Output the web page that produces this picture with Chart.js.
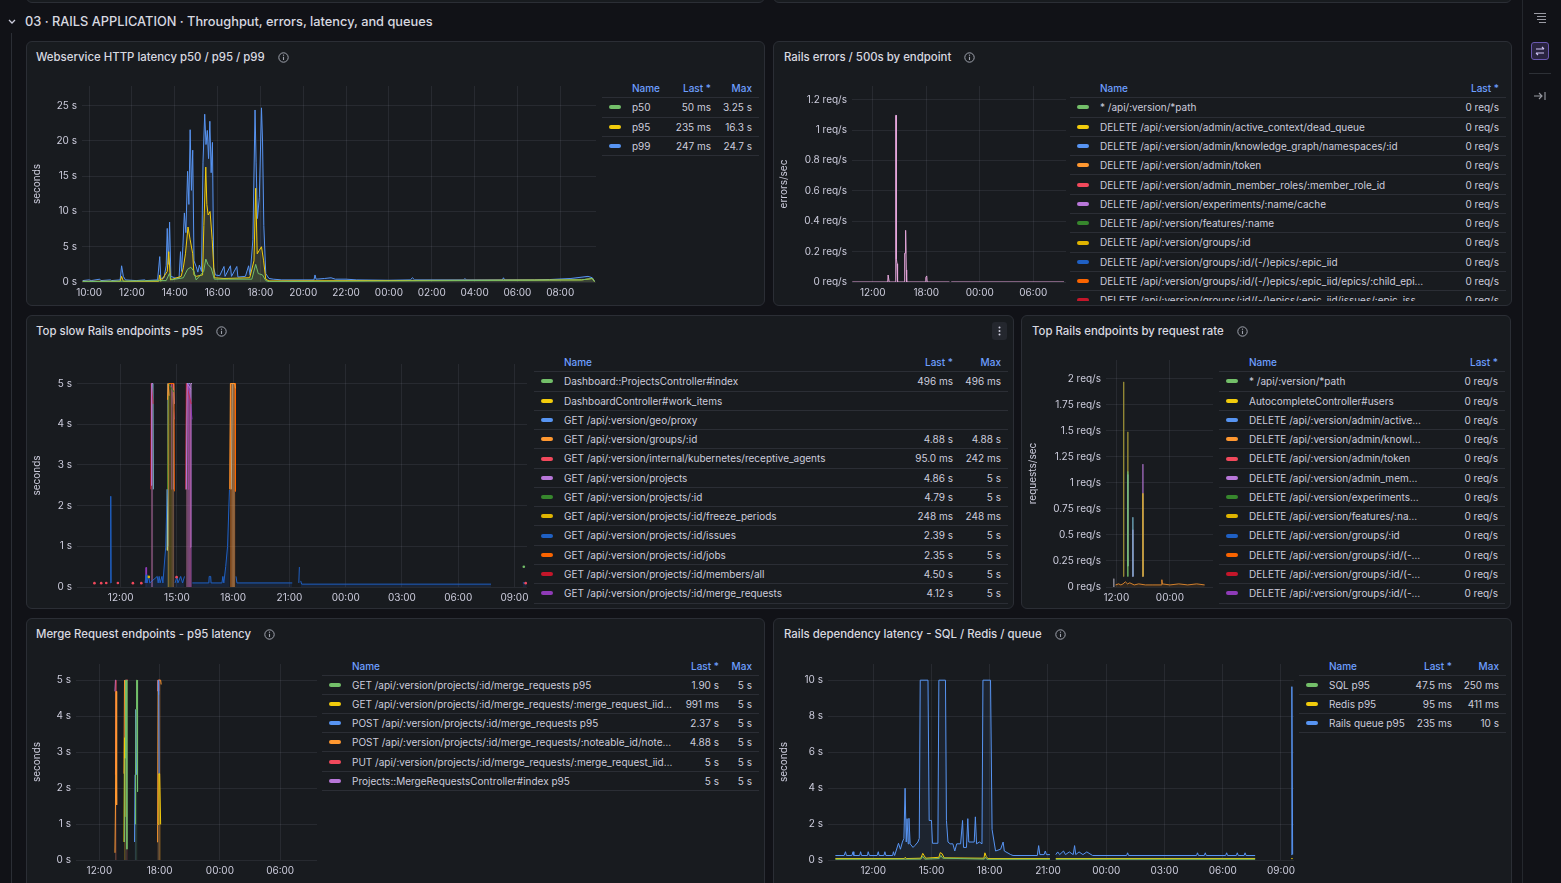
<!DOCTYPE html>
<html>
<head>
<meta charset="utf-8">
<title>03 · RAILS APPLICATION</title>
<script src="https://cdn.jsdelivr.net/npm/chart.js@4.4.1/dist/chart.umd.min.js"></script>
<style>
  html, body { margin: 0; padding: 0; }
  body { width: 1561px; height: 883px; overflow: hidden; background: #111217; position: relative;
         font-family: Inter, "Noto Sans", sans-serif; color: #ccccdc; }
  .abs { position: absolute; }
  .panel { position: absolute; background: #181b1f; border: 1px solid #2b2e35; border-radius: 6px; box-sizing: border-box; }
  .ptitle { position: absolute; top: 7px; height: 16px; line-height: 16px; font-size: 11.4px; font-weight: 500;
            color: #d8d9e0; white-space: nowrap; display: flex; align-items: center; }
  .ptitle svg { margin-left: 13px; }
  .legend { position: absolute; overflow: hidden; font-size: 10px; }
  .lrow { position: absolute; left: 0; right: 0; border-bottom: 1px solid #2b2e35; box-sizing: border-box; white-space: nowrap; }
  .lrow span { position: absolute; top: 0; }
  .lhead { color: #6e9fff; font-weight: 500; }
  .sw { left: 7px; width: 12px; height: 4px; border-radius: 2px; }
  .nm { left: 30px; overflow: hidden; text-overflow: ellipsis; }
  .num { text-align: right; }
  canvas { position: absolute; }
</style>
</head>
<body>

<!-- bottoms of the panels above -->
<div class="panel" style="left:26px;top:-20px;width:739px;height:23px"></div>
<div class="panel" style="left:773px;top:-20px;width:739px;height:23px"></div>

<!-- row header -->
<svg class="abs" style="left:7px;top:18px" width="10" height="8"><path d="M2 2 L5 5 L8 2" stroke="#ccccdc" stroke-width="1.3" fill="none"/></svg>
<div class="abs" style="left:25px;top:13px;font-size:12.8px;font-weight:500;color:#d8d9e0;line-height:18px;white-space:nowrap">03 · RAILS APPLICATION · Throughput, errors, latency, and queues</div>
<div class="abs" style="left:11px;top:33px;width:1px;height:850px;background:#2b2e35"></div>

<!-- right side bar -->
<div class="abs" style="left:1522px;top:0;width:1px;height:883px;background:#24272d"></div>
<svg class="abs" style="left:1533px;top:12px" width="14" height="12">
  <path d="M1 1.5H13 M4 4.5H13 M4 7.5H13 M6 10.5H13" stroke="#9a9ba4" stroke-width="1.1"/>
</svg>
<div class="abs" style="left:1531px;top:42px;width:18px;height:18px;box-sizing:border-box;border:1px solid #6a58b0;background:#2a2440;border-radius:3px"></div>
<svg class="abs" style="left:1534px;top:45px" width="12" height="12">
  <path d="M2 4H10 M8 2L10 4 M10 8H2 M4 10L2 8" stroke="#cfc4f5" stroke-width="1.1" fill="none"/>
</svg>
<div class="abs" style="left:1529px;top:73px;width:22px;height:1px;background:#2d3036"></div>
<svg class="abs" style="left:1533px;top:90px" width="14" height="12">
  <path d="M1 6H9 M6 3L9 6L6 9 M12 2V10" stroke="#9a9ba4" stroke-width="1.1" fill="none"/>
</svg>

<script>
// ---------- data (time in hours, next day = 24+) ----------
const timeMin = 9.67;
const timeMax = 33.67;

// Webservice HTTP latency (seconds)
const latP50 = [[9.7,0.05],[13.6,0.2],[13.75,1.2],[13.85,0.3],[14.4,0.6],[14.6,1.8],[14.75,2.1],[14.9,1.5],[15.0,0.3],[15.35,1.5],[15.45,3.25],[15.55,2.5],[15.7,2.0],[15.85,0.4],[16.5,0.4],[17.6,0.4],[17.78,2.5],[17.9,1.2],[18.1,1.0],[18.25,0.2],[18.4,0.05],[33.0,0.3],[33.5,0.5],[33.6,0.05]];
const latP95 = [[9.7,0.1],[11.45,0.1],[11.52,0.8],[11.6,0.1],[13.25,0.1],[13.3,1.0],[13.35,0.1],[13.65,1.5],[13.72,4.3],[13.8,0.3],[14.3,0.8],[14.4,2.0],[14.5,4.0],[14.62,7.8],[14.72,6.0],[14.84,4.0],[14.9,1.0],[15.0,0.8],[15.3,1.0],[15.36,8.0],[15.45,16.3],[15.5,11.0],[15.56,9.5],[15.65,10.0],[15.75,6.0],[15.85,0.6],[16.3,0.5],[17.5,0.6],[17.7,3.0],[17.78,13.3],[17.85,4.0],[17.95,4.5],[18.05,5.0],[18.15,3.0],[18.25,0.4],[18.4,0.15],[33.0,0.3],[33.5,0.5],[33.6,0.05]];
const latP99 = [[9.7,0.2],[10.0,0.3],[10.1,0.2],[10.5,0.4],[10.55,0.2],[11.0,0.3],[11.05,0.2],[11.45,0.3],[11.52,2.3],[11.6,0.8],[11.7,0.3],[12.2,0.2],[12.6,0.3],[12.65,0.2],[13.2,0.3],[13.3,3.6],[13.35,0.5],[13.5,0.6],[13.6,2.3],[13.65,7.6],[13.7,2.5],[13.76,8.5],[13.82,0.8],[14.0,0.6],[14.2,0.5],[14.27,4.3],[14.32,1.5],[14.38,5.0],[14.45,9.8],[14.52,7.0],[14.6,15.7],[14.66,11.0],[14.72,21.6],[14.78,13.0],[14.84,18.7],[14.9,3.0],[15.0,2.2],[15.08,1.4],[15.15,2.4],[15.25,1.5],[15.32,17.0],[15.4,23.8],[15.46,19.5],[15.52,21.5],[15.58,17.5],[15.64,22.8],[15.7,15.5],[15.76,19.8],[15.82,2.0],[15.9,1.0],[16.1,0.9],[16.3,2.2],[16.35,0.8],[16.6,2.3],[16.65,0.8],[16.9,2.2],[16.95,0.7],[17.3,0.8],[17.45,2.3],[17.52,1.0],[17.65,6.0],[17.75,24.4],[17.8,17.0],[17.86,9.0],[17.95,12.0],[18.05,24.7],[18.1,20.0],[18.16,8.0],[18.25,1.2],[18.4,0.5],[18.6,0.4],[19.0,0.3],[20.5,0.3],[20.55,1.0],[20.6,0.4],[21.0,0.5],[21.3,0.6],[21.5,0.4],[22.0,0.4],[22.5,0.3],[24.0,0.25],[25.0,0.3],[25.1,0.6],[25.2,0.3],[27.5,0.3],[27.55,0.5],[27.6,0.3],[29.3,0.3],[29.35,0.6],[29.4,0.3],[30.8,0.3],[31.5,0.35],[32.5,0.5],[33.3,0.8],[33.5,0.6],[33.6,0.1]];
const latNames = ['p50', 'p95', 'p99'];
const latLast = ['50 ms', '235 ms', '247 ms'];
const latMax = ['3.25 s', '16.3 s', '24.7 s'];

// Rails errors / 500s (req/s)
const err500 = [[9.7,0],[13.68,0],[13.72,0.046],[13.8,0.046],[13.84,0],[14.55,0],[14.58,1.097],[14.62,1.097],[14.64,1.0],[14.66,0.15],[14.72,0.12],[14.76,0.04],[14.8,0],[15.55,0],[15.58,0.19],[15.63,0.19],[15.65,0.34],[15.72,0.34],[15.76,0.08],[15.8,0],[17.88,0],[17.95,0.03],[18.05,0.04],[18.1,0],[20.6,0],[20.62,null],[20.8,0],[33.45,0]];
const errNames = ['* /api/:version/*path', 'DELETE /api/:version/admin/active_context/dead_queue', 'DELETE /api/:version/admin/knowledge_graph/namespaces/:id', 'DELETE /api/:version/admin/token', 'DELETE /api/:version/admin_member_roles/:member_role_id', 'DELETE /api/:version/experiments/:name/cache', 'DELETE /api/:version/features/:name', 'DELETE /api/:version/groups/:id', 'DELETE /api/:version/groups/:id/(-/)epics/:epic_iid', 'DELETE /api/:version/groups/:id/(-/)epics/:epic_iid/epics/:child_epic_id', 'DELETE /api/:version/groups/:id/(-/)epics/:epic_iid/issues/:epic_issue_id'];
const errLast = ['0 req/s','0 req/s','0 req/s','0 req/s','0 req/s','0 req/s','0 req/s','0 req/s','0 req/s','0 req/s','0 req/s'];

// Top slow Rails endpoints p95 (seconds)
const slowDashboard = [[33.5,0.496]];
const slowWorkItems = [];
const slowGeo = [];
const slowGroups = [[14.5,4.6],[14.53,5],[14.58,4.7],[14.59,null],[17.82,2.4],[17.85,5],[18.08,5],[18.12,4.88]];
const slowAgents = [[10.6,0.095],[10.61,null],[10.96,0.095],[10.97,null],[11.23,0.1],[11.24,null],[11.85,0.1],[11.86,null],[12.65,0.095],[12.66,null],[13.1,0.095],[13.11,null],[14.98,0.242],[14.99,null],[33.6,0.095]];
const slowProjects = [[13.62,2.5],[13.65,5],[13.72,5],[13.73,null],[15.5,2.4],[15.55,5],[15.75,4.86]];
const slowProjectId = [[14.5,2.4],[14.55,5],[14.85,4.79]];
const slowFreeze = [[13.5,0.248]];
const slowIssues = [[11.45,0.1],[11.47,2.23],[11.49,0.1],[11.5,null],[13.3,0.1],[13.35,0.3],[13.4,0.1],[13.5,0.26],[13.55,0.1],[13.95,0.26],[14.0,0.1],[14.05,0.26],[14.1,0.1],[14.2,0.26],[14.25,0.1],[14.4,0.98],[14.48,2.4],[14.5,null],[14.9,0.1],[15.0,0.26],[15.05,0.1],[15.2,0.26],[15.3,0.1],[15.4,0.26],[15.46,null],[15.82,0.1],[16.7,0.1],[16.72,0.26],[16.8,0.26],[16.82,0.1],[17.4,0.1],[17.45,0.26],[17.5,0.1],[17.6,0.5],[17.7,1.0],[17.8,2.39],[17.82,null],[18.15,0.26],[18.2,0.1],[21.15,0.1],[21.2,null],[21.5,0.1],[21.53,0.49],[21.56,null],[21.6,0.15],[21.65,0.07],[31.75,0.07],[31.8,null],[33.45,0.1],[33.65,0.1]];
const slowJobs = [[14.52,2.4],[14.55,5],[14.84,5],[14.86,2.35],[14.87,null],[17.83,2.4],[17.87,5],[18.11,5],[18.12,2.35]];
const slowMembers = [[13.6,2.4],[13.63,5],[13.73,4.5],[13.74,null],[15.47,2.4],[15.5,5],[15.76,4.5]];
const slowMergeReqs = [[13.33,0.1],[13.35,0.48],[13.38,0.1],[13.39,null],[14.7,2.4],[14.72,5],[14.86,4.12],[14.87,null],[15.6,2.4],[15.63,5],[15.8,4.12]];
// series further down the (scrolled) legend that show up in the bands
const slowOtherA = [[13.62,2.5],[13.65,5],[13.72,5],[13.74,2.4],[13.75,null],[14.48,1.0],[14.52,5],[14.6,5],[14.61,null],[15.48,2.4],[15.52,5],[15.7,5],[15.71,null],[17.9,2.4],[17.95,5],[18.1,5]];
const slowOtherB = [[14.8,2.4],[14.82,5],[14.86,4.5],[14.87,null],[15.7,0.98],[15.74,5],[15.8,5]];
const slowOtherC = [[14.47,0.9],[14.48,2.4],[14.49,0.9]];
const slowNames = ['Dashboard::ProjectsController#index', 'DashboardController#work_items', 'GET /api/:version/geo/proxy', 'GET /api/:version/groups/:id', 'GET /api/:version/internal/kubernetes/receptive_agents', 'GET /api/:version/projects', 'GET /api/:version/projects/:id', 'GET /api/:version/projects/:id/freeze_periods', 'GET /api/:version/projects/:id/issues', 'GET /api/:version/projects/:id/jobs', 'GET /api/:version/projects/:id/members/all', 'GET /api/:version/projects/:id/merge_requests'];
const slowLast = ['496 ms', '', '', '4.88 s', '95.0 ms', '4.86 s', '4.79 s', '248 ms', '2.39 s', '2.35 s', '4.50 s', '4.12 s'];
const slowMax = ['496 ms', '', '', '4.88 s', '242 ms', '5 s', '5 s', '248 ms', '5 s', '5 s', '5 s', '5 s'];

// Top Rails endpoints by request rate (req/s)
const rateAnyPath = [[14.5,0.3],[14.55,1.11],[14.6,0.1]];
const rateAutocomplete = [[17.9,0.1],[17.95,0.9],[18.0,0.1]];
const rateActiveCtx = [[14.52,0.3],[14.55,1.08],[14.6,0.2],[14.61,null],[15.65,0.1],[15.7,0.67],[15.75,0.1]];
const rateKnowledge = [[11.8,0.02],[12.5,0.03],[13.0,0.02],[13.5,0.03],[14.0,0.05],[14.5,0.03],[15.0,0.04],[16.0,0.02],[17.0,0.03],[18.5,0.02],[20.0,0.02],[22.1,0.02],[22.2,0.07],[22.3,0.03],[24.0,0.02],[26.0,0.03],[28.0,0.02],[30.0,0.03],[31.8,0.02]];
const rateToken = [];
const rateMemberRoles = [[15.66,0.1],[15.7,0.55],[15.74,0.1],[15.75,null],[17.9,0.1],[17.95,1.18],[18.0,0.1]];
const rateExperiments = [];
const rateFeatures = [[13.57,0.1],[13.62,1.97],[13.67,0.1],[13.68,null],[14.5,0.2],[14.55,1.49],[14.6,0.2]];
const rateGroups = [];
const rateEpic = [];
const rateChildEpic = [];
const rateEpicIssue = [[11.35,0],[11.4,0.08],[11.45,0]];
const rateNames = ['* /api/:version/*path', 'AutocompleteController#users', 'DELETE /api/:version/admin/active_context/dead_queue', 'DELETE /api/:version/admin/knowledge_graph/namespaces/:id', 'DELETE /api/:version/admin/token', 'DELETE /api/:version/admin_member_roles/:member_role_id', 'DELETE /api/:version/experiments/:name/cache', 'DELETE /api/:version/features/:name', 'DELETE /api/:version/groups/:id', 'DELETE /api/:version/groups/:id/(-/)epics/:epic_iid', 'DELETE /api/:version/groups/:id/(-/)epics/:epic_iid/epics/:child_epic_id', 'DELETE /api/:version/groups/:id/(-/)epics/:epic_iid/issues/:epic_issue_id'];
const rateLast = ['0 req/s','0 req/s','0 req/s','0 req/s','0 req/s','0 req/s','0 req/s','0 req/s','0 req/s','0 req/s','0 req/s','0 req/s'];

// Merge Request endpoints p95 (seconds)
const mrGetList = [[14.5,0.5],[14.55,2.83],[14.6,5],[14.7,5],[14.74,0.3],[14.75,null],[15.55,1.0],[15.6,2.4],[15.65,4.2],[15.7,5],[15.76,5],[15.8,1.9]];
const mrGetOne = [[14.45,0.5],[14.5,3.4],[14.55,1.2],[14.56,null],[17.85,0.99],[17.92,2.4],[18.0,2.4],[18.1,0.99]];
const mrPost = [[15.5,0.5],[15.55,2.37],[15.62,4.18],[15.7,2.37],[15.71,null],[17.85,4.6],[17.9,5],[17.95,2.37]];
const mrNotes = [[13.55,0.2],[13.6,1.53],[13.66,4.69],[13.72,1.53],[13.73,null],[14.45,2.4],[14.5,5],[14.6,4.88],[14.61,null],[17.75,0.5],[17.8,0.98],[17.85,5],[18.1,5],[18.15,4.88]];
const mrPut = [[13.6,2.37],[13.66,5],[13.74,5],[13.75,null],[14.55,4.8],[14.6,5],[14.85,5],[14.86,null],[17.88,4.7],[17.92,5],[18.05,5]];
const mrIndex = [[13.55,4.69],[13.6,5],[13.66,5],[13.67,null],[17.78,4.7],[17.82,5],[17.86,5]];
const mrNames = ['GET /api/:version/projects/:id/merge_requests p95', 'GET /api/:version/projects/:id/merge_requests/:merge_request_iid p95', 'POST /api/:version/projects/:id/merge_requests p95', 'POST /api/:version/projects/:id/merge_requests/:noteable_id/notes p95', 'PUT /api/:version/projects/:id/merge_requests/:merge_request_iid/merge p95', 'Projects::MergeRequestsController#index p95'];
const mrLast = ['1.90 s', '991 ms', '2.37 s', '4.88 s', '5 s', '5 s'];
const mrMax = ['5 s', '5 s', '5 s', '5 s', '5 s', '5 s'];

// Rails dependency latency (seconds)
const depSql = [[10.05,0.04],[14.45,0.05],[14.55,0.2],[14.65,0.05],[15.4,0.08],[15.48,0.25],[15.58,0.1],[17.72,0.05],[17.78,0.15],[17.85,0.04],[21.1,0.04],[21.12,null],[21.4,0.04],[31.67,0.04]];
const depRedis = [[10.05,0.08],[13.6,0.08],[13.65,0.15],[13.7,0.08],[14.45,0.1],[14.55,0.37],[14.62,0.25],[14.7,0.1],[15.38,0.15],[15.45,0.41],[15.55,0.35],[15.65,0.12],[17.7,0.1],[17.75,0.4],[17.82,0.2],[17.9,0.08],[21.1,0.08],[21.12,null],[21.4,0.08],[31.67,0.08],[31.7,null],[33.53,0.08],[33.6,0.08]];
const depQueue = [[10.05,0.25],[10.5,0.25],[10.57,0.46],[10.62,0.25],[10.9,0.25],[10.96,0.46],[11.0,0.25],[11.3,0.25],[11.35,0.46],[11.4,0.25],[11.7,0.25],[11.74,0.46],[11.8,0.25],[12.2,0.25],[12.26,0.46],[12.3,0.25],[12.55,0.25],[12.6,0.46],[12.65,0.25],[13.0,0.25],[13.04,0.46],[13.1,0.25],[13.3,0.93],[13.4,0.6],[13.5,1.0],[13.58,1.2],[13.64,3.99],[13.7,1.0],[13.74,2.3],[13.8,0.9],[13.84,2.32],[13.9,0.9],[14.05,0.7],[14.14,0.8],[14.3,1.0],[14.37,1.2],[14.42,10],[14.82,10],[14.88,2.2],[15.0,2.2],[15.05,0.93],[15.33,0.93],[15.38,10],[15.72,10],[15.77,2.2],[15.85,1.0],[15.96,0.9],[16.1,0.9],[16.2,0.5],[16.3,0.9],[16.5,0.9],[16.6,2.2],[16.65,0.7],[16.8,0.7],[16.87,2.3],[16.92,1.0],[17.2,1.0],[17.26,2.4],[17.32,0.9],[17.47,1.0],[17.6,0.9],[17.65,10],[18.04,10],[18.12,1.7],[18.3,0.5],[18.56,0.6],[18.69,1.0],[18.75,0.5],[19.08,0.3],[19.2,0.25],[20.45,0.25],[20.52,0.8],[20.58,0.3],[20.8,0.3],[20.86,0.5],[20.92,0.3],[21.1,0.3],[21.12,null],[21.4,0.3],[21.5,0.45],[21.6,0.3],[21.8,0.5],[21.9,0.3],[22.1,0.45],[22.3,0.3],[22.37,0.8],[22.43,0.3],[22.6,0.45],[22.8,0.3],[23.0,0.45],[23.3,0.25],[25.05,0.25],[25.1,0.4],[25.15,0.25],[28.65,0.25],[28.7,0.4],[28.75,0.25],[29.05,0.25],[29.1,0.4],[29.15,0.25],[30.15,0.25],[30.2,0.4],[30.25,0.25],[30.7,0.25],[30.75,0.4],[30.8,0.25],[31.1,0.25],[31.15,0.4],[31.2,0.25],[31.67,0.25],[31.7,null],[33.53,0.3],[33.56,9.64],[33.6,0.3]];
const depNames = ['SQL p95', 'Redis p95', 'Rails queue p95'];
const depLast = ['47.5 ms', '95 ms', '235 ms'];
const depMax = ['250 ms', '411 ms', '10 s'];

// tick values and labels
const hours2 = [10, 12, 14, 16, 18, 20, 22, 24, 26, 28, 30, 32];
const hours2Labels = ['10:00', '12:00', '14:00', '16:00', '18:00', '20:00', '22:00', '00:00', '02:00', '04:00', '06:00', '08:00'];
const hours3 = [12, 15, 18, 21, 24, 27, 30, 33];
const hours3Labels = ['12:00', '15:00', '18:00', '21:00', '00:00', '03:00', '06:00', '09:00'];
const hours6 = [12, 18, 24, 30];
const hours6Labels = ['12:00', '18:00', '00:00', '06:00'];
const hours12 = [12, 24];
const hours12Labels = ['12:00', '00:00'];
const latTicks = [0, 5, 10, 15, 20, 25];
const latTickLabels = ['0 s', '5 s', '10 s', '15 s', '20 s', '25 s'];
const errTicks = [0, 0.2, 0.4, 0.6, 0.8, 1, 1.2];
const errTickLabels = ['0 req/s', '0.2 req/s', '0.4 req/s', '0.6 req/s', '0.8 req/s', '1 req/s', '1.2 req/s'];
const secTicks = [0, 1, 2, 3, 4, 5];
const secTickLabels = ['0 s', '1 s', '2 s', '3 s', '4 s', '5 s'];
const rateTicks = [0, 0.25, 0.5, 0.75, 1, 1.25, 1.5, 1.75, 2];
const rateTickLabels = ['0 req/s', '0.25 req/s', '0.5 req/s', '0.75 req/s', '1 req/s', '1.25 req/s', '1.5 req/s', '1.75 req/s', '2 req/s'];
const depTicks = [0, 2, 4, 6, 8, 10];
const depTickLabels = ['0 s', '2 s', '4 s', '6 s', '8 s', '10 s'];

// ---------- styling ----------
const palette = ['#73bf69', '#f2cc0c', '#5794f2', '#ff9830', '#f2495c', '#b877d9', '#37872d', '#e0b400', '#1f60c4', '#fa6400', '#c4162a', '#8f3bb8'];
const gridColor = 'rgba(204,204,220,0.09)';
const textColor = '#ccccdc';
Chart.defaults.font.family = 'Inter';
Chart.defaults.font.size = 10;
Chart.defaults.color = textColor;

function rgba(hex, a) {
  const n = parseInt(hex.slice(1), 16);
  return `rgba(${n >> 16},${(n >> 8) & 255},${n & 255},${a})`;
}
const toPts = arr => arr.map(p => ({ x: p[0], y: p[1] }));

function infoIcon() {
  return '<svg width="11" height="11" viewBox="0 0 11 11"><circle cx="5.5" cy="5.5" r="4.7" stroke="#9fa3ad" stroke-width="1" fill="none"/><path d="M5.5 4.8V8" stroke="#9fa3ad" stroke-width="1.1"/><circle cx="5.5" cy="3.2" r="0.65" fill="#9fa3ad"/></svg>';
}

function buildPanel(p) {
  const el = document.createElement('div');
  el.className = 'panel';
  el.style.cssText = `left:${p.left}px;top:${p.top}px;width:${p.w}px;height:${p.h}px`;
  el.innerHTML = `<div class="ptitle" style="left:${p.tx}px">${p.title}${infoIcon()}</div>`;
  document.body.appendChild(el);
  return el;
}

function buildChart(o) {
  const L = o.titleX - 8;
  const T = o.plotTop;
  const W = o.plotRight + 4 - L;
  const H = o.plotBottom - T + 22;
  const cv = document.createElement('canvas');
  cv.width = W; cv.height = H;
  cv.style.cssText = `left:${L}px;top:${T}px;width:${W}px;height:${H}px`;
  document.body.appendChild(cv);
  new Chart(cv, {
    type: 'line',
    data: {
      datasets: o.series.map(s => ({
        data: toPts(s.data),
        borderColor: s.line ? rgba(s.color, s.line) : s.color,
        backgroundColor: rgba(s.color, s.fill || 0),
        fill: s.fill ? 'origin' : false,
        borderWidth: s.width || 1,
        pointRadius: s.radius || 0,
        pointBackgroundColor: s.color,
        pointBorderWidth: 0,
        tension: 0,
        spanGaps: false
      }))
    },
    options: {
      responsive: false,
      animation: false,
      events: [],
      layout: { padding: { top: 0, right: 4, left: 0, bottom: 0 } },
      plugins: { legend: { display: false }, tooltip: { enabled: false } },
      scales: {
        x: {
          type: 'linear', min: timeMin, max: timeMax,
          afterBuildTicks: s => { s.ticks = o.xTicks.map(v => ({ value: v })); },
          afterFit: s => { s.height = 22; s.paddingLeft = 0; s.paddingRight = 0; },
          ticks: { callback: (v, i) => o.xLabels[i], padding: 5, maxRotation: 0, autoSkip: false, color: textColor },
          grid: { color: gridColor, drawTicks: false },
          border: { display: false }
        },
        y: {
          min: 0, max: o.yMax,
          afterBuildTicks: s => { s.ticks = o.yTicks.map(v => ({ value: v })); },
          afterFit: s => { s.width = o.plotLeft - L; s.paddingTop = 0; s.paddingBottom = 0; },
          ticks: { callback: (v, i) => o.yLabels[i], padding: 5, autoSkip: false, color: textColor },
          grid: { color: gridColor, drawTicks: false },
          border: { display: false },
          title: { display: true, text: o.yTitle, color: textColor, font: { size: 10 }, padding: { top: 2, bottom: 0 } }
        }
      }
    }
  });
}

function buildLegend(o) {
  const box = document.createElement('div');
  box.className = 'legend';
  box.style.cssText = `left:${o.left}px;top:${o.top}px;width:${o.width}px;height:${o.height}px`;
  const by = o.borderY - o.top;
  const row = (y, h, cls) => {
    const r = document.createElement('div');
    r.className = 'lrow ' + (cls || '');
    r.style.top = y + 'px'; r.style.height = h + 'px'; r.style.lineHeight = (h - 1) + 'px';
    box.appendChild(r);
    return r;
  };
  const cell = (r, cls, text, css) => {
    const s = document.createElement('span');
    s.className = cls; s.textContent = text; s.style.cssText += css;
    r.appendChild(s);
  };
  const head = row(by - 18, 18, 'lhead');
  cell(head, 'nm', 'Name', '');
  cell(head, 'num', 'Last *', `right:${o.lastR}px`);
  if (o.maxs) cell(head, 'num', 'Max', `right:${o.maxR}px`);
  o.names.forEach((n, i) => {
    const r = row(by + i * o.rowH, o.rowH);
    const sw = document.createElement('span');
    sw.className = 'sw';
    sw.style.background = palette[i % palette.length];
    sw.style.top = ((o.rowH - 1) / 2 - 2) + 'px';
    r.appendChild(sw);
    cell(r, 'nm', n, `width:${o.nameW}px`);
    cell(r, 'num', o.lasts[i], `right:${o.lastR}px`);
    if (o.maxs) cell(r, 'num', o.maxs[i], `right:${o.maxR}px`);
  });
  document.body.appendChild(box);
}

// ---------- panels ----------
buildPanel({ left: 26, top: 41, w: 739, h: 265, tx: 9, title: 'Webservice HTTP latency p50 / p95 / p99' });
buildPanel({ left: 773, top: 41, w: 739, h: 265, tx: 10, title: 'Rails errors / 500s by endpoint' });
const slowPanel = buildPanel({ left: 26, top: 315, w: 988, h: 294, tx: 9, title: 'Top slow Rails endpoints - p95' });
buildPanel({ left: 1021, top: 315, w: 490, h: 294, tx: 10, title: 'Top Rails endpoints by request rate' });
buildPanel({ left: 26, top: 618, w: 739, h: 290, tx: 9, title: 'Merge Request endpoints - p95 latency' });
buildPanel({ left: 773, top: 618, w: 739, h: 290, tx: 10, title: 'Rails dependency latency - SQL / Redis / queue' });

const menu = document.createElement('div');
menu.className = 'abs';
menu.style.cssText = 'left:965px;top:6px;width:15px;height:18px;background:#24272e;border-radius:3px';
menu.innerHTML = '<svg width="15" height="18"><circle cx="7.5" cy="5.5" r="1" fill="#ccccdc"/><circle cx="7.5" cy="9" r="1" fill="#ccccdc"/><circle cx="7.5" cy="12.5" r="1" fill="#ccccdc"/></svg>';
slowPanel.appendChild(menu);

// Webservice HTTP latency
buildChart({
  titleX: 37, plotLeft: 82, plotRight: 596, plotTop: 86, plotBottom: 282, yMax: 27.8,
  xTicks: hours2, xLabels: hours2Labels, yTicks: latTicks, yLabels: latTickLabels, yTitle: 'seconds',
  series: [
    { data: latP50, color: palette[0], fill: 0.1 },
    { data: latP95, color: palette[1], fill: 0.1 },
    { data: latP99, color: palette[2], fill: 0.1 }
  ]
});
buildLegend({ left: 602, top: 78, width: 157, height: 90, borderY: 98.3, rowH: 19.3, names: latNames, lasts: latLast, maxs: latMax, lastR: 48, maxR: 7, nameW: 80 });

// Rails errors
buildChart({
  titleX: 784, plotLeft: 852, plotRight: 1066, plotTop: 86, plotBottom: 282, yMax: 1.29,
  xTicks: hours6, xLabels: hours6Labels, yTicks: errTicks, yLabels: errTickLabels, yTitle: 'errors/sec',
  series: [{ data: err500, color: '#e6a7dc', fill: 0.1 }]
});
buildLegend({ left: 1070, top: 78, width: 436, height: 223, borderY: 98.3, rowH: 19.3, names: errNames, lasts: errLast, maxs: null, lastR: 7, nameW: 327 });

// Top slow Rails endpoints
buildChart({
  titleX: 37, plotLeft: 77, plotRight: 527, plotTop: 360, plotBottom: 587, yMax: 5.48,
  xTicks: hours3, xLabels: hours3Labels, yTicks: secTicks, yLabels: secTickLabels, yTitle: 'seconds',
  series: [
    { data: slowDashboard, color: palette[0], radius: 1.3 },
    { data: slowWorkItems, color: palette[1] },
    { data: slowGeo, color: palette[2] },
    { data: slowGroups, color: palette[3], fill: 0.25 },
    { data: slowAgents, color: palette[4], radius: 1.3 },
    { data: slowProjects, color: palette[5], fill: 0.25 },
    { data: slowProjectId, color: palette[6], fill: 0.25 },
    { data: slowFreeze, color: palette[7], radius: 1.3 },
    { data: slowIssues, color: palette[8], fill: 0.15 },
    { data: slowJobs, color: palette[9], fill: 0.25 },
    { data: slowMembers, color: palette[10], fill: 0.25 },
    { data: slowMergeReqs, color: palette[11], fill: 0.25 },
    { data: slowOtherA, color: '#7fc1d8', fill: 0.25 },
    { data: slowOtherB, color: '#ca95e5', fill: 0.25 },
    { data: slowOtherC, color: '#d6e685', fill: 0.25 }
  ]
});
buildLegend({ left: 534, top: 352, width: 474, height: 252, borderY: 372.3, rowH: 19.27, names: slowNames, lasts: slowLast, maxs: slowMax, lastR: 55, maxR: 7, nameW: 330 });

// Top Rails endpoints by request rate
buildChart({
  titleX: 1033, plotLeft: 1106, plotRight: 1213, plotTop: 360, plotBottom: 587, yMax: 2.18,
  xTicks: hours12, xLabels: hours12Labels, yTicks: rateTicks, yLabels: rateTickLabels, yTitle: 'requests/sec',
  series: [
    { data: rateAnyPath, color: palette[0], fill: 0.1, line: 0.7 },
    { data: rateAutocomplete, color: palette[1], fill: 0.1, line: 0.7 },
    { data: rateActiveCtx, color: '#7fc1d8', fill: 0.1, line: 0.7 },
    { data: rateKnowledge, color: palette[3], fill: 0.1, line: 0.8 },
    { data: rateToken, color: palette[4] },
    { data: rateMemberRoles, color: palette[5], fill: 0.1, line: 0.7 },
    { data: rateExperiments, color: palette[6] },
    { data: rateFeatures, color: '#a89a3a', fill: 0.1, line: 0.8 },
    { data: rateGroups, color: palette[8] },
    { data: rateEpic, color: palette[9] },
    { data: rateChildEpic, color: palette[10] },
    { data: rateEpicIssue, color: '#8e8e99' }
  ]
});
buildLegend({ left: 1219, top: 352, width: 286, height: 252, borderY: 372.3, rowH: 19.27, names: rateNames, lasts: rateLast, maxs: null, lastR: 7, nameW: 173 });

// Merge Request endpoints
buildChart({
  titleX: 37, plotLeft: 76, plotRight: 317, plotTop: 664, plotBottom: 860, yMax: 5.45,
  xTicks: hours6, xLabels: hours6Labels, yTicks: secTicks, yLabels: secTickLabels, yTitle: 'seconds',
  series: [
    { data: mrGetList, color: palette[0], fill: 0.15 },
    { data: mrGetOne, color: palette[1], fill: 0.15 },
    { data: mrPost, color: palette[2], fill: 0.15 },
    { data: mrNotes, color: palette[3], fill: 0.15 },
    { data: mrPut, color: palette[4], fill: 0.15 },
    { data: mrIndex, color: palette[5], fill: 0.15 }
  ]
});
buildLegend({ left: 322, top: 656, width: 437, height: 140, borderY: 675.7, rowH: 19.2, names: mrNames, lasts: mrLast, maxs: mrMax, lastR: 40, maxR: 7, nameW: 322 });

// Rails dependency latency
buildChart({
  titleX: 784, plotLeft: 828, plotRight: 1294, plotTop: 664, plotBottom: 860, yMax: 10.9,
  xTicks: hours3, xLabels: hours3Labels, yTicks: depTicks, yLabels: depTickLabels, yTitle: 'seconds',
  series: [
    { data: depSql, color: palette[0], fill: 0.08 },
    { data: depRedis, color: palette[1], fill: 0.08 },
    { data: depQueue, color: palette[2], fill: 0.08 }
  ]
});
buildLegend({ left: 1299, top: 656, width: 207, height: 80, borderY: 675.7, rowH: 19.2, names: depNames, lasts: depLast, maxs: depMax, lastR: 54, maxR: 7, nameW: 80 });
</script>
</body>
</html>
